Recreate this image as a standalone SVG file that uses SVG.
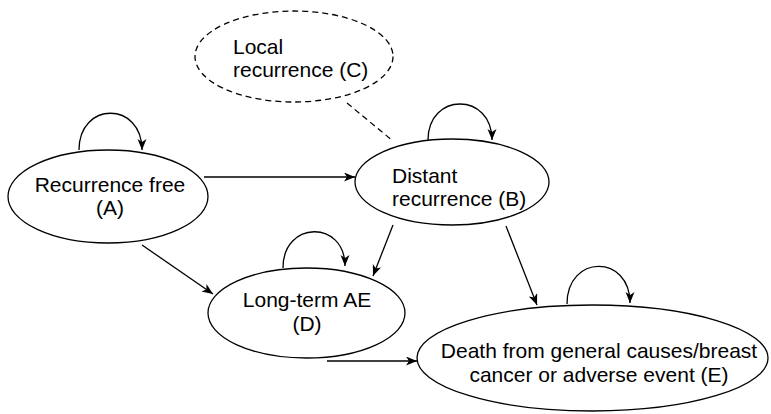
<svg xmlns="http://www.w3.org/2000/svg" width="771" height="414" viewBox="0 0 771 414">
<defs>
<style>
.node{fill:#fff;stroke:#000;stroke-width:1.3}
.dashed{stroke-dasharray:6 4}
.lbl{font-family:"Liberation Sans",Arial,Helvetica,sans-serif;font-size:21px;fill:#000}
.c{text-anchor:middle}
.edge{fill:none;stroke:#000;stroke-width:1.3;marker-end:url(#arr)}
.dline{fill:none;stroke:#000;stroke-width:1.2;stroke-dasharray:6 4}
</style>
<marker id="arr" markerWidth="12" markerHeight="10" refX="11" refY="4.5" orient="auto" markerUnits="userSpaceOnUse">
<path d="M0,0 L11,4.5 L0,9 L3,4.5 z" fill="#000"/>
</marker>
</defs>
<rect width="771" height="414" fill="#fff"/>
<g id="connectors">
<path class="dline" d="M347,103 L393,141"/>
<path class="edge" d="M79,150 C79,101 142,101 142,150"/>
<path class="edge" d="M428,140 C428,92 492,92 492,140"/>
<path class="edge" d="M283,268 C283,220 345,220 345,266"/>
<path class="edge" d="M567,304 C567,254 630,254 630,303"/>
<path class="edge" d="M204,177 L355,177"/>
<path class="edge" d="M142,245 L213,294"/>
<path class="edge" d="M393,225 L373,276"/>
<path class="edge" d="M506,226 L537,305"/>
<path class="edge" d="M327,361 L417,361"/>
</g>
<g id="nodeA">
<ellipse class="node" cx="108" cy="196.5" rx="100" ry="46.5"/>
<text class="lbl c" x="110" y="192">Recurrence free</text>
<text class="lbl c" x="110" y="215">(A)</text>
</g>
<g id="nodeB">
<ellipse class="node" cx="452" cy="182" rx="97" ry="43"/>
<text class="lbl" x="392" y="183">Distant</text>
<text class="lbl" x="392" y="206">recurrence (B)</text>
</g>
<g id="nodeC">
<ellipse class="node dashed" cx="294" cy="56.5" rx="99" ry="45.5"/>
<text class="lbl" x="233" y="54">Local</text>
<text class="lbl" x="233" y="77">recurrence (C)</text>
</g>
<g id="nodeD">
<ellipse class="node" cx="306.5" cy="313" rx="98.5" ry="45"/>
<text class="lbl c" x="307" y="307">Long-term AE</text>
<text class="lbl c" x="307" y="331">(D)</text>
</g>
<g id="nodeE">
<ellipse class="node" cx="592.5" cy="358" rx="175.5" ry="53"/>
<text class="lbl c" x="599" y="358">Death from general causes/breast</text>
<text class="lbl c" x="599" y="382">cancer or adverse event (E)</text>
</g>
</svg>
